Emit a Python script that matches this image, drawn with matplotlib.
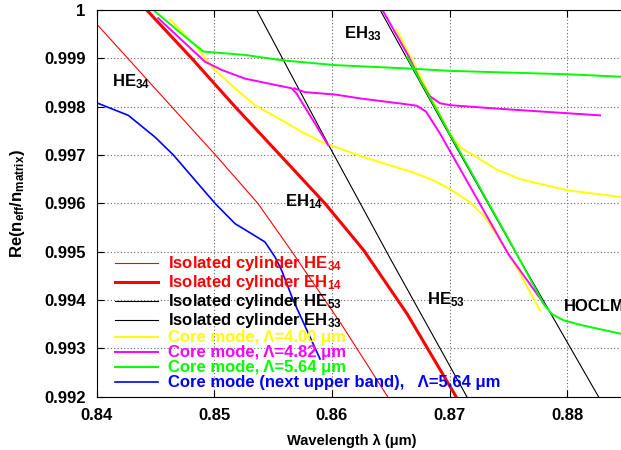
"""
Effective index of isolated-cylinder modes and core modes vs wavelength.
"""

import matplotlib
matplotlib.use("Agg")
import matplotlib.pyplot as plt

plt.rcParams["font.family"] = ["Liberation Sans", "DejaVu Sans"]
plt.rcParams["font.weight"] = "bold"
plt.rcParams["mathtext.fontset"] = "custom"
plt.rcParams["mathtext.rm"] = "Liberation Sans:bold"
plt.rcParams["mathtext.it"] = "Liberation Sans:bold"
plt.rcParams["mathtext.bf"] = "Liberation Sans:bold"

# isolated cylinder modes
he34_x = [0.8400, 0.8451, 0.8501, 0.8537, 0.8566, 0.8608, 0.8650]
he34_y = [0.99971, 0.99834, 0.99700, 0.99600, 0.99500, 0.99350, 0.99190]

eh14_x = [0.84425, 0.84808, 0.85176, 0.85559, 0.8594, 0.8627, 0.8664, 0.8708]
eh14_y = [1.0000, 0.99900, 0.99800, 0.99700, 0.99600, 0.99503, 0.99371, 0.99190]

he53_x = [0.8536, 0.8600, 0.8650, 0.8717]
he53_y = [1.0000, 0.99708, 0.99484, 0.99190]

eh33_x = [0.8641, 0.8700, 0.8750, 0.8829]
eh33_y = [1.0000, 0.99741, 0.99525, 0.99190]

# core mode, Lambda = 4.00 um (two branches)
y400a_x = [0.84623, 0.84836, 0.84992, 0.85176, 0.85346, 0.85573, 0.85743, 0.85913,
           0.86026, 0.8624, 0.8669, 0.8686, 0.8700, 0.8717, 0.8730, 0.8740,
           0.8757, 0.8777]
y400a_y = [0.99981, 0.99927, 0.99879, 0.99838, 0.99803, 0.99772, 0.99748, 0.99727,
           0.99717, 0.99698, 0.99664, 0.99648, 0.99630, 0.99603, 0.99572, 0.99535,
           0.99468, 0.99378]
y400b_x = [0.8655, 0.8670, 0.8683, 0.8693, 0.8701, 0.8710, 0.8720, 0.8740,
           0.8760, 0.8800, 0.8846]
y400b_y = [0.99959, 0.99888, 0.99825, 0.99778, 0.99740, 0.99714, 0.99700, 0.99670,
           0.99650, 0.99627, 0.99613]

# core mode, Lambda = 4.82 um (three branches)
m482a_x = [0.84524, 0.84722, 0.84921, 0.85063, 0.85261, 0.85459, 0.85658, 0.8570,
           0.85969]
m482a_y = [0.99983, 0.99938, 0.99893, 0.99876, 0.99858, 0.99848, 0.99838, 0.99827,
           0.99720]
m482b_x = [0.8568, 0.8577, 0.8603, 0.8624, 0.8660, 0.8672, 0.8680, 0.8692, 0.8720,
           0.8750, 0.8781]
m482b_y = [0.99838, 0.99830, 0.99825, 0.99817, 0.99806, 0.99802, 0.99790, 0.99744,
           0.99624, 0.99495, 0.99390]
m482c_x = [0.8643, 0.8665, 0.8675, 0.8683, 0.8692, 0.8701, 0.8740, 0.8828]
m482c_y = [1.0000, 0.99905, 0.99855, 0.99822, 0.99807, 0.99803, 0.99796, 0.99782]

# core mode, Lambda = 5.64 um (two branches)
g564a_x = [0.84482, 0.8470, 0.84907, 0.85261, 0.85573, 0.86026, 0.8664, 0.8701,
           0.8800, 0.8846]
g564a_y = [1.0000, 0.99955, 0.99914, 0.99907, 0.99896, 0.99886, 0.99879, 0.99874,
           0.99867, 0.99862]
g564b_x = [0.8664, 0.8700, 0.8750, 0.8780, 0.8787, 0.8797, 0.8814, 0.8846]
g564b_y = [0.99903, 0.99745, 0.99527, 0.99392, 0.99371, 0.99358, 0.99347, 0.99330]

# core mode, next upper band, Lambda = 5.64 um
blue_x = [0.8400, 0.84269, 0.84496, 0.84652, 0.84836, 0.85006, 0.85176, 0.85318,
          0.85431, 0.85516, 0.85573, 0.85672, 0.85899]
blue_y = [0.99808, 0.99782, 0.99737, 0.99700, 0.99648, 0.99600, 0.99558, 0.99537,
          0.99520, 0.99489, 0.99461, 0.99399, 0.99278]

x_ticks = [0.84, 0.85, 0.86, 0.87, 0.88]
x_tick_labels = ["0.84", "0.85", "0.86", "0.87", "0.88"]
y_ticks = [0.992, 0.993, 0.994, 0.995, 0.996, 0.997, 0.998, 0.999, 1.0]
y_tick_labels = ["0.992", "0.993", "0.994", "0.995", "0.996", "0.997", "0.998", "0.999", "1"]

mode_labels = ["HE$_{34}$", "EH$_{14}$", "EH$_{33}$", "HE$_{53}$", "HOCLM"]
mode_label_x = [0.8413, 0.8560, 0.8610, 0.8681, 0.8797]
mode_label_y = [0.99852, 0.99604, 0.99951, 0.99401, 0.99387]

fig = plt.figure(figsize=(6.21, 4.5), dpi=100)
ax = fig.add_axes([0.1557, 0.1185, 0.8443, 0.8593])

ax.plot(he34_x, he34_y, color="#ff0000", lw=0.8, label="Isolated cylinder HE$_{34}$")
ax.plot(eh14_x, eh14_y, color="#ff0000", lw=2.2, label="Isolated cylinder EH$_{14}$")
ax.plot(he53_x, he53_y, color="black", lw=0.8, label="Isolated cylinder HE$_{53}$")
ax.plot(eh33_x, eh33_y, color="black", lw=0.8, label="Isolated cylinder EH$_{33}$")

ax.plot(y400a_x, y400a_y, color="#ffff00", lw=1.4, label="Core mode, Λ=4.00 μm")
ax.plot(y400b_x, y400b_y, color="#ffff00", lw=1.4)
ax.plot(m482a_x, m482a_y, color="#ff00ff", lw=1.4, label="Core mode, Λ=4.82 μm")
ax.plot(m482b_x, m482b_y, color="#ff00ff", lw=1.4)
ax.plot(m482c_x, m482c_y, color="#ff00ff", lw=1.4)
ax.plot(g564a_x, g564a_y, color="#00ff00", lw=1.4, label="Core mode, Λ=5.64 μm")
ax.plot(g564b_x, g564b_y, color="#00ff00", lw=1.4)
ax.plot(blue_x, blue_y, color="#0000ff", lw=1.2,
        label="Core mode (next upper band),   Λ=5.64 μm")

for txt, tx, ty in zip(mode_labels, mode_label_x, mode_label_y):
    ax.text(tx, ty, txt, fontsize=12, fontweight="bold", ha="left", va="center")

ax.set_xlim(0.84, 0.88458)
ax.set_ylim(0.992, 1.0)
ax.set_xticks(x_ticks)
ax.set_xticklabels(x_tick_labels)
ax.set_yticks(y_ticks)
ax.set_yticklabels(y_tick_labels)
ax.tick_params(direction="in", length=5, width=0.8, top=True, right=False,
               labelsize=12, pad=8)
ax.grid(True, color="0.4", linestyle=(0, (1, 2)), linewidth=0.8)
ax.spines["right"].set_visible(False)

ax.set_xlabel("Wavelength λ (μm)", fontsize=10.5, fontweight="bold")
ax.set_ylabel("Re(n$_{eff}$/n$_{matrix}$)", fontsize=12, fontweight="bold")
ax.xaxis.set_label_coords(0.487, -0.095)
ax.yaxis.set_label_coords(-0.132, 0.5)

leg = ax.legend(loc="lower left", bbox_to_anchor=(0.035, 0.016), frameon=False,
                fontsize=12, handlelength=2.6, handletextpad=0.6,
                labelspacing=0.0, borderpad=0.0, borderaxespad=0.0)
for text, line in zip(leg.get_texts(), leg.get_lines()):
    text.set_color(line.get_color())
    text.set_fontweight("bold")

fig.savefig("out.png", dpi=100)
